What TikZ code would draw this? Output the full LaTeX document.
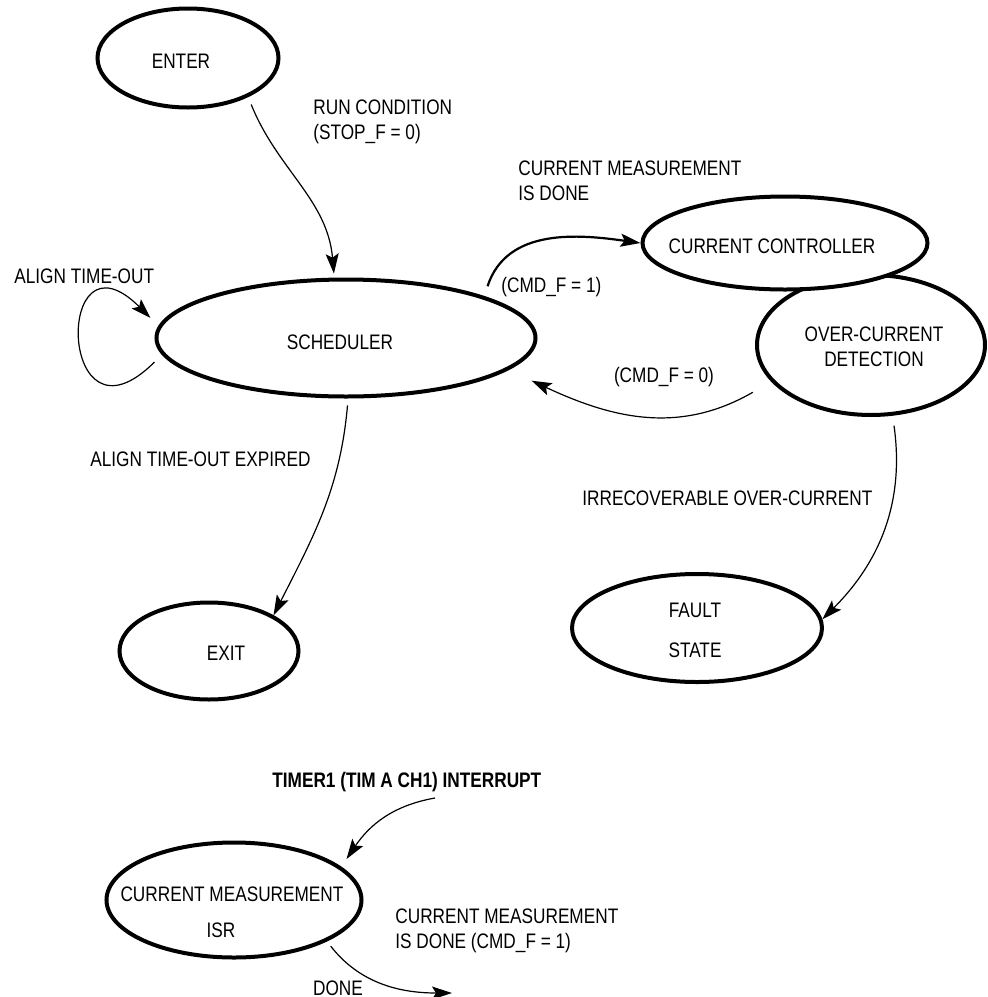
\documentclass[tikz,border=0pt]{standalone}
\usepackage{fontspec}
\setmainfont{Liberation Sans}[FakeStretch=0.82]
\usetikzlibrary{shapes.geometric, arrows.meta}

\tikzset{
  stnode/.style={draw, ellipse, line width=2pt, inner sep=0pt, fill=white},
  sttext/.style={inner sep=0pt, align=center},
  lbl/.style={inner sep=0pt, align=left, anchor=west},
  trans/.style={-{Stealth[length=10pt, width=6.5pt, inset=2pt]}, line width=0.6pt},
}

\begin{document}
\begin{tikzpicture}[x=0.5pt, y=-0.5pt, font=\fontsize{10.5}{12.5}\selectfont]

\useasboundingbox (0,0) rectangle (988,997);

% states
\node[stnode, minimum width=90.5pt, minimum height=49.5pt] (enter) at (188,58) {};
\node[stnode, minimum width=189.5pt, minimum height=58.5pt] (sched) at (346,338) {};
\node[stnode, minimum width=114pt, minimum height=70pt] (ocd) at (871,345) {};
\node[stnode, minimum width=142.5pt, minimum height=46.5pt] (ctrl) at (785,243) {};
\node[stnode, minimum width=125pt, minimum height=54pt] (fault) at (697,628) {};
\node[stnode, minimum width=89.5pt, minimum height=48.5pt] (exitst) at (209,651) {};
\node[stnode, minimum width=127.5pt, minimum height=57.5pt] (isr) at (234,900) {};

\node[sttext] (enter-t) at (181,61) {ENTER};
\node[sttext] (sched-t) at (340,342) {SCHEDULER};
\node[sttext] (ctrl-t) at (772,246) {CURRENT CONTROLLER};
\node[sttext] (ocd-t) at (874,347) {OVER-CURRENT\\DETECTION};
\node[sttext] (fault-t) at (695,630) {FAULT\\[7.5pt]STATE};
\node[sttext] (exit-t) at (226,653) {EXIT};
\node[sttext] (isr-t1) at (232,894) {CURRENT MEASUREMENT};
\node[sttext] (isr-t2) at (221,930) {ISR};

% labels
\node[lbl] (run) at (313,122) {RUN CONDITION\\(STOP\_F = 0)};
\node[lbl] (cmdone) at (518,181) {CURRENT MEASUREMENT\\IS DONE};
\node[lbl] (cmd1) at (501,287) {(CMD\_F = 1)};
\node[lbl] (align) at (14,276) {ALIGN TIME-OUT};
\node[sttext] (cmd0) at (664,377) {(CMD\_F = 0)};
\node[lbl] (expired) at (90,459) {ALIGN TIME-OUT EXPIRED};
\node[lbl] (irrec) at (582,498) {IRRECOVERABLE OVER-CURRENT};
\node[lbl, font=\fontsize{10.5}{12.5}\selectfont\bfseries] (timer) at (272,782) {TIMER1 (TIM A CH1) INTERRUPT};
\node[lbl] (isrdone) at (395,931) {CURRENT MEASUREMENT\\IS DONE (CMD\_F = 1)};
\node[sttext] (done) at (338,988) {DONE};

\coordinate (tstart) at (435,798);
\coordinate (dend) at (452,993);

% transitions
\draw[trans, shorten <=4pt, shorten >=2pt] (enter.-33) to[out=-68, in=95] (sched.101);
\draw[trans, line width=1.1pt] ([xshift=8pt, yshift=3pt]sched.20) to[out=72, in=172] (ctrl.180);
\draw[trans] ([xshift=-10.5pt, yshift=-4pt]ocd.202) to[out=-150, in=-25] ([xshift=15.5pt, yshift=-3.5pt]sched.-13);
\draw[trans] ([yshift=-12pt]sched.west) .. controls +(-97,97) and +(-97,-97) .. ([xshift=-2pt, yshift=10pt]sched.west);
\draw[trans, shorten <=3.5pt] (sched.-88) to[out=-95, in=63] (exitst.29);
\draw[trans, shorten <=5pt] (ocd.-73) to[out=-82, in=45] (fault.4);
\draw[trans] (tstart) to[out=190, in=56] ([xshift=5.5pt, yshift=2pt]isr.20);
\draw[trans, shorten <=3pt] (isr.-24) to[out=-52, in=180] (dend);

\end{tikzpicture}
\end{document}
